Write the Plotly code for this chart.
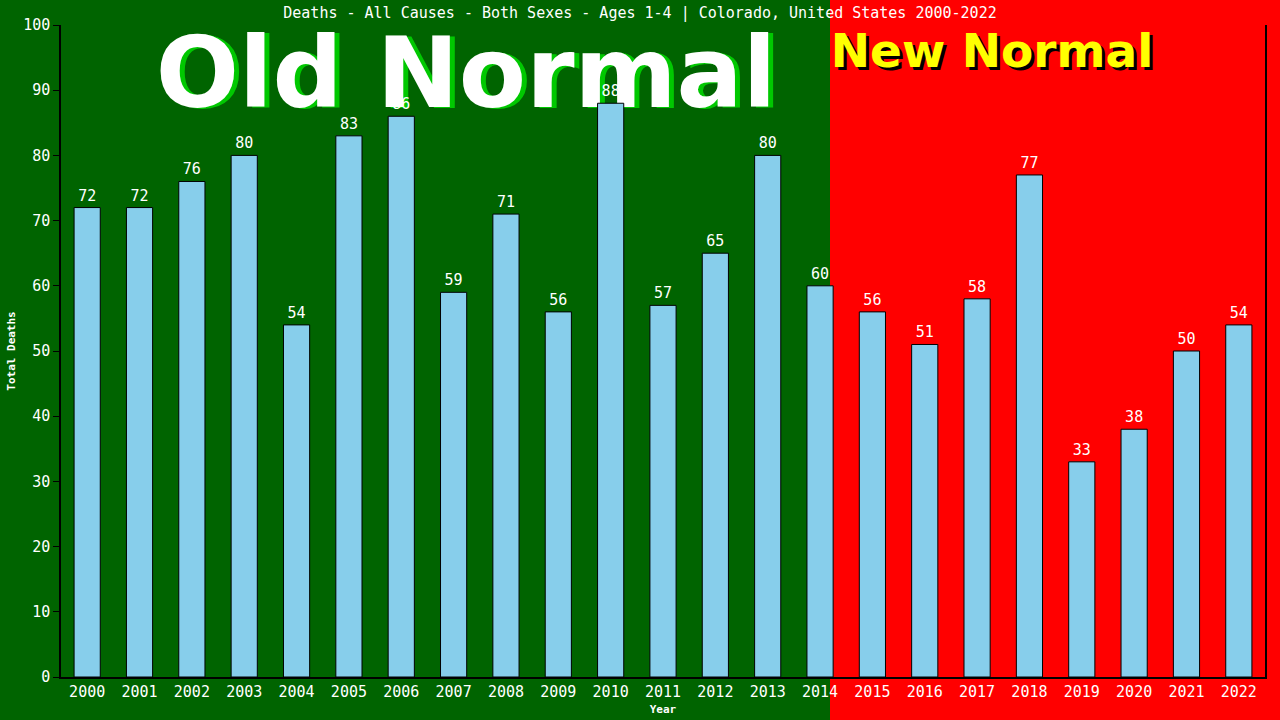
import plotly.graph_objects as go

# Deaths, all causes, both sexes, ages 1-4, Colorado
years = [str(y) for y in range(2000, 2023)]
deaths = [72, 72, 76, 80, 54, 83, 86, 59, 71, 56, 88, 57, 65, 80, 60,
          56, 51, 58, 77, 33, 38, 50, 54]

title_text = "Deaths - All Causes - Both Sexes - Ages 1-4 | Colorado, United States 2000-2022"
y_ticks = list(range(0, 101, 10))

GREEN_BG = "#006400"
RED_BG = "#FF0000"
BAR_FILL = "#87CEEB"
MONO = "DejaVu Sans Mono"

# plot area in pixels, used to place the background split and banner text
L, R, T, B = 61, 15, 25, 43
W, H = 1280, 720
PW, PH = W - L - R, H - T - B


def px_x(px):
    return (px - L) / PW


def px_y(py):
    return (H - B - py) / PH


fig = go.Figure()
fig.add_trace(go.Bar(
    x=years,
    y=deaths,
    width=0.5,
    marker=dict(color=BAR_FILL, line=dict(color="black", width=1)),
    text=[str(v) for v in deaths],
    textposition="outside",
    textfont=dict(family=MONO, size=15, color="white"),
    cliponaxis=False,
    hoverinfo="x+y",
))

shapes = [
    # red "new normal" half of the background
    dict(type="rect", xref="paper", yref="paper",
         x0=px_x(830), x1=px_x(W + 10), y0=px_y(H + 10), y1=px_y(-10),
         fillcolor=RED_BG, line=dict(width=0), layer="below"),
]


def banner(text, cx, cy, size, color, w=700, h=120):
    return dict(type="rect", xref="paper", yref="paper",
                x0=px_x(cx - w / 2), x1=px_x(cx + w / 2),
                y0=px_y(cy + h / 2), y1=px_y(cy - h / 2),
                fillcolor="rgba(0,0,0,0)", line=dict(width=0), layer="below",
                label=dict(text=text, textposition="middle center",
                           font=dict(family="DejaVu Sans", size=size,
                                     color=color, weight="bold")))


# "Old Normal" with a bright green drop shadow
shapes.append(banner("Old Normal", 471, 67, 98, "#00C800"))
shapes.append(banner("Old Normal", 466, 66, 98, "white"))
# "New Normal" with a black drop shadow
shapes.append(banner("New Normal", 995, 50, 47, "black", w=400, h=60))
shapes.append(banner("New Normal", 992, 47, 47, "#FFFF00", w=400, h=60))

fig.update_layout(
    width=W, height=H,
    margin=dict(l=L, r=R, t=T, b=B, pad=0),
    paper_bgcolor=GREEN_BG,
    plot_bgcolor="rgba(0,0,0,0)",
    showlegend=False,
    shapes=shapes,
    title=dict(text=title_text, x=0.5, xanchor="center",
               y=1 - 13 / H, yanchor="middle", yref="container",
               font=dict(family=MONO, size=15, color="white")),
    xaxis=dict(
        type="category", automargin=False,
        showline=True, linecolor="black", linewidth=1.5,
        ticks="", showgrid=False, zeroline=False,
        tickfont=dict(family=MONO, size=15, color="white"),
        title=dict(text="Year", standoff=6,
                   font=dict(family=MONO, size=11, color="white", weight="bold")),
    ),
    yaxis=dict(
        range=[0, 100], automargin=False,
        tickvals=y_ticks,
        showline=True, linecolor="black", linewidth=1.5, mirror=True,
        ticks="outside", ticklen=6, tickcolor="black",
        showgrid=False, zeroline=False,
        tickfont=dict(family=MONO, size=15, color="white"),
        title=dict(text="Total Deaths", standoff=5,
                   font=dict(family=MONO, size=11, color="white", weight="bold")),
    ),
)

fig.write_html("out.html")
